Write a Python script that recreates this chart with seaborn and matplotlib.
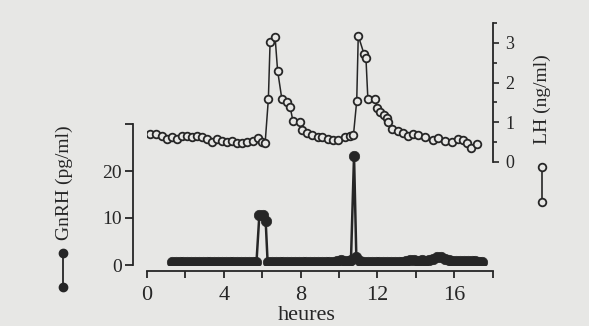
import matplotlib
matplotlib.use("Agg")
import matplotlib.pyplot as plt
from matplotlib.lines import Line2D
import seaborn as sns
import pandas as pd

# ---------------- data ----------------
lh_hours = [0.16, 0.47, 0.77, 1.03, 1.29, 1.55, 1.81, 2.07, 2.33, 2.59, 2.85, 3.11,
            3.37, 3.63, 3.89, 4.15, 4.41, 4.67, 4.93, 5.19, 5.54, 5.80, 5.98, 6.15,
            6.32, 6.41, 6.67, 6.80, 7.02, 7.28, 7.45, 7.60, 7.97, 8.06, 8.32, 8.58,
            8.90, 9.10, 9.40, 9.70, 9.97, 10.32, 10.55, 10.75, 10.92, 11.00, 11.30,
            11.40, 11.50, 11.88, 11.98, 12.14, 12.35, 12.50, 12.56, 12.76, 13.08,
            13.34, 13.60, 13.86, 14.12, 14.48, 14.90, 15.16, 15.53, 15.89, 16.20,
            16.46, 16.67, 16.88, 17.19]
lh_values = [0.70, 0.70, 0.65, 0.57, 0.64, 0.57, 0.65, 0.65, 0.64, 0.65, 0.64, 0.57,
             0.51, 0.57, 0.54, 0.51, 0.54, 0.47, 0.49, 0.50, 0.54, 0.60, 0.51, 0.47,
             1.59, 3.03, 3.14, 2.30, 1.59, 1.52, 1.39, 1.03, 1.01, 0.81, 0.72, 0.68,
             0.64, 0.62, 0.58, 0.55, 0.55, 0.62, 0.65, 0.68, 1.54, 3.18, 2.72,
             2.62, 1.59, 1.59, 1.36, 1.26, 1.18, 1.11, 1.01, 0.83, 0.78,
             0.73, 0.65, 0.71, 0.68, 0.63, 0.55, 0.60, 0.53, 0.50, 0.58,
             0.55, 0.48, 0.35, 0.45]

gnrh_hours = [1.3, 1.5, 1.7, 1.9, 2.1, 2.3, 2.5, 2.7, 2.9, 3.1, 3.3, 3.5, 3.7, 3.9,
              4.1, 4.3, 4.5, 4.7, 4.9, 5.1, 5.3, 5.5, 5.7, 5.85, 6.02, 6.18, 6.28,
              6.5, 6.7, 6.9, 7.1, 7.3, 7.5, 7.7, 7.9, 8.1, 8.3, 8.5, 8.7, 8.9, 9.1,
              9.3, 9.5, 9.7, 9.9, 10.1, 10.3, 10.5, 10.62, 10.78, 10.9, 11.1, 11.3,
              11.5, 11.7, 11.9, 12.1, 12.3, 12.5, 12.7, 12.9, 13.1, 13.3, 13.5, 13.7,
              13.9, 14.1, 14.3, 14.5, 14.7, 14.9, 15.1, 15.3, 15.5, 15.7, 15.9, 16.1,
              16.3, 16.5, 16.7, 16.9, 17.1, 17.3, 17.45]
gnrh_values = [0.6, 0.7, 0.6, 0.7, 0.6, 0.6, 0.7, 0.6, 0.6, 0.7, 0.6, 0.6, 0.7, 0.6,
               0.6, 0.7, 0.6, 0.6, 0.7, 0.6, 0.6, 0.7, 0.6, 10.6, 10.6, 9.3, 0.6,
               0.7, 0.6, 0.6, 0.7, 0.6, 0.6, 0.7, 0.6, 0.6, 0.7, 0.6, 0.6, 0.7, 0.6,
               0.6, 0.7, 0.6, 0.8, 1.0, 0.9, 0.9, 1.0, 23.2, 1.6, 0.9, 0.7,
               0.6, 0.7, 0.6, 0.6, 0.7, 0.6, 0.6, 0.7, 0.6, 0.6, 0.8, 1.0,
               1.1, 0.9, 1.0, 0.8, 1.0, 1.2, 1.7, 1.8, 1.3, 1.0, 0.9, 0.8,
               0.9, 0.8, 0.8, 0.8, 0.8, 0.7, 0.7]

x_ticks = [0, 2, 4, 6, 8, 10, 12, 14, 16, 18]
x_ticklabels = ["0", "", "4", "", "8", "", "12", "", "16", ""]
gnrh_ticks = [0, 10, 20, 30]
gnrh_ticklabels = ["0", "10", "20", ""]
lh_ticks = [0, 1, 2, 3]
lh_ticklabels = ["0", "1", "2", "3"]

# ---------------- style ----------------
BG = "#e7e7e5"
INK = "#262626"
sns.set_theme(style="ticks")
plt.rcParams["font.family"] = ["Liberation Serif", "DejaVu Serif"]
plt.rcParams["text.color"] = INK
plt.rcParams["axes.edgecolor"] = INK
plt.rcParams["xtick.color"] = INK
plt.rcParams["ytick.color"] = INK

W, H = 589, 326
fig = plt.figure(figsize=(W / 100, H / 100), dpi=100, facecolor=BG)

def rect(x0, x1, ytop, ybot):
    return [x0 / W, 1 - ybot / H, (x1 - x0) / W, (ybot - ytop) / H]

X0, X1 = 147, 492.7   # pixel positions of 0 h and 18 h

# GnRH axes (bottom)
ax_g = fig.add_axes(rect(X0, X1, 124, 265))
ax_g.patch.set_alpha(0)
gdf = pd.DataFrame({"h": gnrh_hours, "v": gnrh_values})
sns.lineplot(data=gdf, x="h", y="v", ax=ax_g, estimator=None, sort=False,
             color=INK, linewidth=1.8, marker="o", markersize=7.5,
             markerfacecolor=INK, markeredgecolor=INK, markeredgewidth=0.5)
ax_g.set_xlim(0, 18)
ax_g.set_ylim(0, 30)
ax_g.set_xlabel("")
ax_g.set_ylabel("")
for s in ["top", "right"]:
    ax_g.spines[s].set_visible(False)
ax_g.spines["left"].set_position(("outward", 10))
ax_g.spines["bottom"].set_position(("outward", 4.3))
for s in ["left", "bottom"]:
    ax_g.spines[s].set_linewidth(1.3)
ax_g.set_xticks(x_ticks)
ax_g.set_xticklabels(x_ticklabels)
ax_g.set_yticks(gnrh_ticks)
ax_g.set_yticklabels(gnrh_ticklabels)
ax_g.tick_params(axis="x", direction="out", length=5, width=1.3, pad=6,
                 labelsize=16, bottom=True, top=False)
ax_g.tick_params(axis="y", direction="out", length=6, width=1.3, pad=2,
                 labelsize=14, left=True, right=False)

# LH axes (top)
ax_l = fig.add_axes(rect(X0, X1, 23, 162))
ax_l.patch.set_alpha(0)
ldf = pd.DataFrame({"h": lh_hours, "v": lh_values})
sns.lineplot(data=ldf, x="h", y="v", ax=ax_l, estimator=None, sort=False,
             color=INK, linewidth=1.1, marker="o", markersize=5.5,
             markerfacecolor=BG, markeredgecolor=INK, markeredgewidth=1.3)
ax_l.set_xlim(0, 18)
ax_l.set_ylim(0, 3.5)
ax_l.set_xlabel("")
ax_l.set_ylabel("")
for s in ["top", "left", "bottom"]:
    ax_l.spines[s].set_visible(False)
ax_l.spines["right"].set_linewidth(1.3)
ax_l.set_xticks([])
ax_l.yaxis.tick_right()
ax_l.set_yticks(lh_ticks)
ax_l.set_yticklabels(lh_ticklabels)
ax_l.set_yticks([0.5, 1.5, 2.5, 3.5], minor=True)
ax_l.tick_params(axis="y", which="major", direction="out", length=4, width=1.2,
                 pad=5, labelsize=13, right=True, left=False)
ax_l.tick_params(axis="y", which="minor", direction="out", length=3, width=1.2,
                 right=True, left=False)

# axis titles
fig.text(307 / W, 1 - 315 / H, "heures", ha="center", va="center", fontsize=16)
fig.text(64 / W, 1 - 183 / H, "GnRH (pg/ml)", ha="center", va="center",
         rotation=90, fontsize=14)
fig.text(542 / W, 1 - 99 / H, "LH (ng/ml)", ha="center", va="center",
         rotation=90, fontsize=14)

# legend-like symbols under the titles
fig.add_artist(Line2D([63 / W, 63 / W], [1 - 253 / H, 1 - 287 / H],
                      transform=fig.transFigure, color=INK, lw=1.3,
                      marker="o", markersize=6, markerfacecolor=INK,
                      markeredgecolor=INK))
fig.add_artist(Line2D([542 / W, 542 / W], [1 - 167 / H, 1 - 202 / H],
                      transform=fig.transFigure, color=INK, lw=1.2,
                      marker="o", markersize=5.5, markerfacecolor=BG,
                      markeredgecolor=INK, markeredgewidth=1.3))

fig.savefig("out.png", dpi=100, facecolor=BG)
